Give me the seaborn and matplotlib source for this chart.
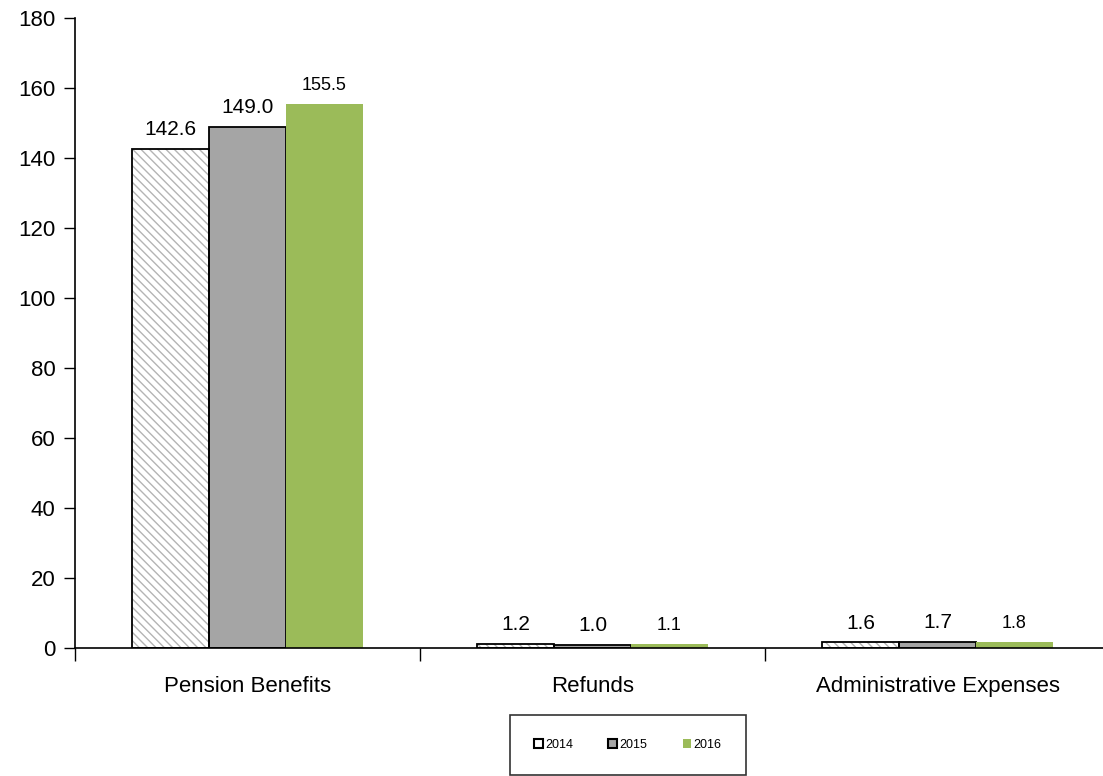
import numpy as np
import pandas as pd
import seaborn as sns
import matplotlib.pyplot as plt
from matplotlib.patches import Patch

categories = ["Pension Benefits", "Refunds", "Administrative Expenses"]
years = ["2014", "2015", "2016"]
values_2014 = [142.6, 1.2, 1.6]
values_2015 = [149.0, 1.0, 1.7]
values_2016 = [155.5, 1.1, 1.8]
y_ticks = [0, 20, 40, 60, 80, 100, 120, 140, 160, 180]

sns.set_style("white")
plt.rcParams["font.family"] = ["Liberation Sans", "DejaVu Sans"]
plt.rcParams["text.color"] = "black"
plt.rcParams["xtick.color"] = "black"
plt.rcParams["ytick.color"] = "black"
plt.rcParams["hatch.linewidth"] = 1.0

HATCH_GRAY = "#b4b4b4"

df = pd.DataFrame({
    "category": categories * 3,
    "year": [y for y in years for _ in categories],
    "value": values_2014 + values_2015 + values_2016,
})

fills = {"2014": "white", "2015": "#a5a5a5", "2016": "#9bbb59"}

fig = plt.figure(figsize=(11.03, 7.76), dpi=100)
ax = fig.add_axes([75 / 1103, 1 - 648 / 776, 1035 / 1103, 630 / 776])

sns.barplot(data=df, x="category", y="value", hue="year", order=categories,
            hue_order=years, palette=fills, width=0.67, ax=ax, legend=False,
            saturation=1)

# style bars per series (containers follow hue order)
for year, cont in zip(years, ax.containers):
    for bar in cont:
        if year == "2014":
            # hatch takes the edge colour, outline is drawn on top below
            bar.set_hatch("\\\\\\\\")
            bar.set_edgecolor(HATCH_GRAY)
            bar.set_linewidth(0)
        elif year == "2015":
            bar.set_edgecolor("black")
            bar.set_linewidth(1.3)
        else:
            bar.set_edgecolor("none")
            bar.set_linewidth(0)
    size = 13 if year == "2016" else 15
    ax.bar_label(cont, labels=[f"{v:.1f}" for v in cont.datavalues],
                 padding=7, fontsize=size, color="black")

for bar in ax.containers[0]:
    ax.add_patch(plt.Rectangle(bar.get_xy(), bar.get_width(), bar.get_height(),
                               fill=False, edgecolor="black", linewidth=1.3,
                               zorder=bar.get_zorder() + 0.1))

ax.set_xlim(-0.5, 2.5)
ax.set_ylim(0, 180)
ax.set_yticks(y_ticks)
ax.tick_params(axis="y", labelsize=16, direction="out", length=8, width=1,
               left=True, color="black", pad=6)
ax.set_xticks([-0.5, 0.5, 1.5, 2.5])
ax.set_xticklabels([])
ax.set_xticks([0, 1, 2], minor=True)
ax.set_xticklabels(categories, minor=True, fontsize=16)
ax.tick_params(axis="x", which="major", direction="out", length=9, width=1,
               bottom=True, color="black")
ax.tick_params(axis="x", which="minor", length=0, pad=20)
ax.set_xlabel("")
ax.set_ylabel("")
for side in ["top", "right"]:
    ax.spines[side].set_visible(False)
for side in ["left", "bottom"]:
    ax.spines[side].set_color("black")
    ax.spines[side].set_linewidth(1.2)

handles = [
    Patch(facecolor="white", edgecolor="black", linewidth=1.5, label="2014"),
    Patch(facecolor="#a5a5a5", edgecolor="black", linewidth=1.5, label="2015"),
    Patch(facecolor="#9bbb59", edgecolor="none", label="2016"),
]
leg = fig.legend(handles=handles, loc="center", ncol=3,
                 bbox_to_anchor=(628 / 1103, 1 - 745 / 776), frameon=True,
                 fancybox=False, edgecolor="black", fontsize=9,
                 handlelength=0.7, handleheight=0.7, handletextpad=0.2,
                 columnspacing=2.8, borderpad=1.9, borderaxespad=0)
leg.get_frame().set_linewidth(1.2)

fig.savefig("out.png", dpi=100)
